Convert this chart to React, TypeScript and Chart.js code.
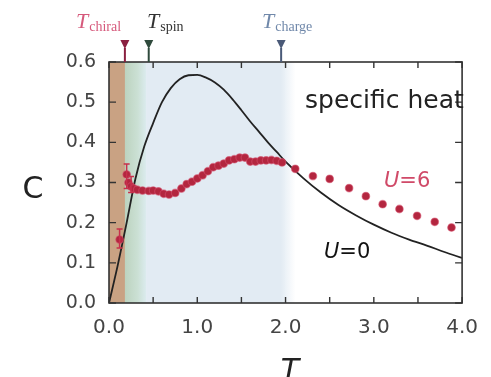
import React, { useEffect, useRef } from "react";
import { Chart, registerables } from "chart.js";

Chart.register(...registerables);

// U=0 curve (free fermions)
const t0: number[] = [0, 0.1, 0.2, 0.3, 0.4, 0.5, 0.6, 0.7, 0.8, 0.9, 1.0, 1.1, 1.2, 1.3, 1.4, 1.5, 1.6, 1.7, 1.8, 1.9, 2.0, 2.2, 2.4, 2.6, 2.8, 3.0, 3.2, 3.4, 3.6, 3.8, 4.0];
const c0: number[] = [0, 0.095, 0.2, 0.31, 0.39, 0.448, 0.5, 0.535, 0.557, 0.567, 0.568, 0.561, 0.549, 0.531, 0.507, 0.48, 0.452, 0.426, 0.4, 0.376, 0.352, 0.311, 0.275, 0.244, 0.218, 0.195, 0.175, 0.158, 0.143, 0.127, 0.112];

// U=6 data points
const t6: number[] = [0.12, 0.2, 0.22, 0.25, 0.28, 0.32, 0.38, 0.45, 0.5, 0.56, 0.62, 0.68, 0.75, 0.82, 0.88, 0.94, 1.0, 1.06, 1.12, 1.18, 1.24, 1.3, 1.36, 1.42, 1.48, 1.54, 1.6, 1.66, 1.72, 1.78, 1.84, 1.9, 1.96, 2.11, 2.31, 2.5, 2.72, 2.91, 3.1, 3.29, 3.49, 3.69, 3.88];
const c6: number[] = [0.158, 0.32, 0.3, 0.29, 0.285, 0.282, 0.28, 0.279, 0.28, 0.278, 0.272, 0.27, 0.274, 0.285, 0.296, 0.302, 0.31, 0.318, 0.328, 0.338, 0.342, 0.347, 0.355, 0.358, 0.362, 0.362, 0.352, 0.352, 0.355, 0.355, 0.356, 0.354, 0.35, 0.334, 0.316, 0.309, 0.286, 0.266, 0.246, 0.234, 0.217, 0.202, 0.188];

// error bars for U=6
const errT: number[] = [0.12, 0.2, 0.25];
const errLow: number[] = [0.137, 0.285, 0.275];
const errHigh: number[] = [0.184, 0.346, 0.315];

// shaded temperature regions
const regionStart: number[] = [0, 0.18, 0.42];
const regionEnd: number[] = [0.18, 0.42, 1.95];

// characteristic temperatures (top markers)
const markerT: number[] = [0.18, 0.45, 1.95];
const markerSub: string[] = ["chiral", "spin", "charge"];
const markerTextColor: string[] = ["#d65a7c", "#333333", "#7088aa"];
const markerColor: string[] = ["#8a2040", "#2f4a3c", "#4a5a78"];

const xTicksMin = 0;
const xTicksMax = 4;
const yTicksMin = 0;
const yTicksMax = 0.6;

const decorPlugin = {
  id: "decor",
  beforeDatasetsDraw(chart: any) {
    const { ctx, chartArea: a, scales } = chart;
    const xs = scales.x;
    ctx.save();
    ctx.beginPath();
    ctx.rect(a.left, a.top, a.right - a.left, a.bottom - a.top);
    ctx.clip();
    const colors = ["#c9a283", null, "#e2ebf3"];
    for (let i = 0; i < regionStart.length; i++) {
      const x1 = xs.getPixelForValue(regionStart[i]);
      const x2 = xs.getPixelForValue(regionEnd[i]);
      if (i === 1) {
        const g = ctx.createLinearGradient(x1, 0, x2, 0);
        g.addColorStop(0, "#bcd3bf");
        g.addColorStop(0.6, "#cbe0d4");
        g.addColorStop(1, "#dbebee");
        ctx.fillStyle = g;
      } else {
        ctx.fillStyle = colors[i];
      }
      ctx.fillRect(x1, a.top, x2 - x1 + 0.5, a.bottom - a.top);
    }
    // fade after last region
    const xe = xs.getPixelForValue(regionEnd[2]);
    const g2 = ctx.createLinearGradient(xe, 0, xe + 14, 0);
    g2.addColorStop(0, "#e2ebf3");
    g2.addColorStop(1, "rgba(226,235,243,0)");
    ctx.fillStyle = g2;
    ctx.fillRect(xe, a.top, 14, a.bottom - a.top);
    ctx.restore();
  },
  afterDatasetsDraw(chart: any) {
    const { ctx, chartArea: a, scales } = chart;
    const xs = scales.x;
    const ys = scales.y;
    ctx.save();
    // error bars
    ctx.strokeStyle = "#c8304c";
    ctx.lineWidth = 1.5;
    for (let i = 0; i < errT.length; i++) {
      const x = xs.getPixelForValue(errT[i]);
      const y1 = ys.getPixelForValue(errLow[i]);
      const y2 = ys.getPixelForValue(errHigh[i]);
      ctx.beginPath();
      ctx.moveTo(x, y1);
      ctx.lineTo(x, y2);
      ctx.moveTo(x - 3, y1);
      ctx.lineTo(x + 3, y1);
      ctx.moveTo(x - 3, y2);
      ctx.lineTo(x + 3, y2);
      ctx.stroke();
    }
    // frame
    ctx.strokeStyle = "#333";
    ctx.lineWidth = 1.6;
    ctx.strokeRect(a.left, a.top, a.right - a.left, a.bottom - a.top);
    // inward ticks
    ctx.lineWidth = 1.4;
    ctx.beginPath();
    for (const t of xs.ticks) {
      const x = xs.getPixelForValue(t.value);
      ctx.moveTo(x, a.bottom);
      ctx.lineTo(x, a.bottom - 6);
      ctx.moveTo(x, a.top);
      ctx.lineTo(x, a.top + 6);
    }
    for (const t of ys.ticks) {
      const y = ys.getPixelForValue(t.value);
      ctx.moveTo(a.left, y);
      ctx.lineTo(a.left + 7, y);
      ctx.moveTo(a.right, y);
      ctx.lineTo(a.right - 7, y);
    }
    ctx.stroke();
    ctx.restore();
  },
  afterDraw(chart: any) {
    const { ctx, chartArea: a, scales } = chart;
    const xs = scales.x;
    ctx.save();
    // top markers
    for (let i = 0; i < markerT.length; i++) {
      const x = xs.getPixelForValue(markerT[i]);
      ctx.fillStyle = markerColor[i];
      ctx.strokeStyle = markerColor[i];
      ctx.beginPath();
      ctx.moveTo(x - 4.5, a.top - 22);
      ctx.lineTo(x + 4.5, a.top - 22);
      ctx.lineTo(x, a.top - 13);
      ctx.closePath();
      ctx.fill();
      ctx.lineWidth = 2;
      ctx.beginPath();
      ctx.moveTo(x, a.top - 14);
      ctx.lineTo(x, a.top);
      ctx.stroke();
    }
    // top labels
    const labelX = [76, 147, 262];
    for (let i = 0; i < markerSub.length; i++) {
      ctx.fillStyle = markerTextColor[i];
      ctx.textAlign = "left";
      ctx.textBaseline = "alphabetic";
      ctx.font = "italic 22px 'Liberation Serif'";
      ctx.fillText("T", labelX[i], 28);
      const w = ctx.measureText("T").width;
      ctx.font = "14px 'Liberation Serif'";
      ctx.fillText(markerSub[i], labelX[i] + w + 1, 31);
    }
    // annotations
    ctx.fillStyle = "#222";
    ctx.font = "25px 'DejaVu Sans'";
    ctx.textAlign = "left";
    ctx.fillText("specific heat", 305, 108);

    ctx.fillStyle = "#d04a68";
    ctx.font = "italic 21px 'DejaVu Sans'";
    ctx.fillText("U", 384, 187);
    let wu = ctx.measureText("U").width;
    ctx.font = "21px 'DejaVu Sans'";
    ctx.fillText("=6", 384 + wu, 187);

    ctx.fillStyle = "#111";
    ctx.font = "italic 21px 'DejaVu Sans'";
    ctx.fillText("U", 324, 258);
    wu = ctx.measureText("U").width;
    ctx.font = "21px 'DejaVu Sans'";
    ctx.fillText("=0", 324 + wu, 258);

    // axis titles
    ctx.fillStyle = "#222";
    ctx.textAlign = "center";
    ctx.font = "30px 'DejaVu Sans'";
    ctx.fillText("C", 33, 198);
    ctx.font = "italic 30px 'DejaVu Sans'";
    ctx.fillText("T", 290, 380);
    ctx.restore();
  },
};

export default function App() {
  const ref = useRef<HTMLCanvasElement | null>(null);
  useEffect(() => {
    if (!ref.current) return;
    const chart = new Chart(ref.current, {
      type: "line",
      data: {
        datasets: [
          {
            label: "U=6",
            data: t6.map((t, i) => ({ x: t, y: c6[i] })),
            showLine: false,
            pointRadius: 3.8,
            pointBackgroundColor: "#b3263f",
            pointBorderColor: "rgba(214,80,110,0.55)",
            pointBorderWidth: 1.2,
          },
          {
            label: "U=0",
            data: t0.map((t, i) => ({ x: t, y: c0[i] })),
            borderColor: "#222",
            borderWidth: 1.8,
            pointRadius: 0,
            cubicInterpolationMode: "monotone",
            fill: false,
          },
        ],
      },
      options: {
        animation: false,
        responsive: false,
        events: [],
        layout: { padding: { left: 0, top: 62, right: 20, bottom: 0 } },
        plugins: { legend: { display: false }, tooltip: { enabled: false } },
        scales: {
          x: {
            type: "linear",
            min: xTicksMin,
            max: xTicksMax,
            grid: { display: false, drawTicks: false },
            border: { display: false },
            ticks: {
              stepSize: 0.5,
              autoSkip: false,
              maxRotation: 0,
              padding: 13,
              color: "#444",
              font: { family: "'DejaVu Sans'", size: 20 },
              callback: (v: any) => (Math.abs(v - Math.round(v)) < 1e-6 ? Number(v).toFixed(1) : ""),
            },
            afterFit: (s: any) => {
              s.height = 74;
            },
          },
          y: {
            type: "linear",
            min: yTicksMin,
            max: yTicksMax,
            grid: { display: false, drawTicks: false },
            border: { display: false },
            ticks: {
              stepSize: 0.1,
              padding: 13,
              color: "#444",
              font: { family: "'DejaVu Sans'", size: 19 },
              callback: (v: any) => Number(v).toFixed(1),
            },
            afterFit: (s: any) => {
              s.width = 109;
            },
          },
        },
      },
      plugins: [decorPlugin],
    } as any);
    return () => chart.destroy();
  }, []);
  return (
    <div style={{ position: "absolute", left: 0, top: 0, width: 491, height: 377, background: "#fff" }}>
      <canvas ref={ref} width={491} height={377} />
    </div>
  );
}
